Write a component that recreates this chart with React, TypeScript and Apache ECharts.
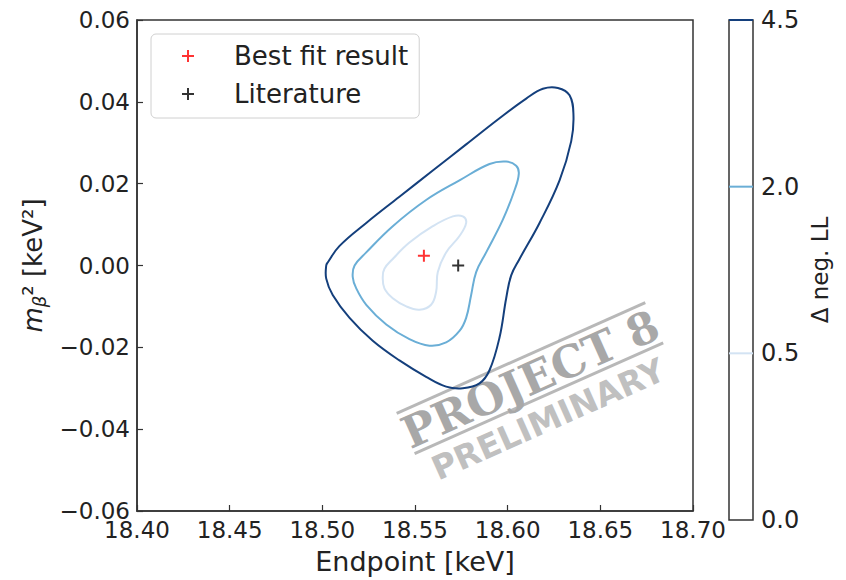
import React, { useEffect, useRef } from 'react';
import * as echarts from 'echarts';

// Contour levels (Δ neg. LL) and colorbar ticks
const contourLevels = [0.5, 2.0, 4.5];
const colorbarTicks = [0.0, 0.5, 2.0, 4.5];
const levelColors = ['#d3e3f3', '#6aaed6', '#143f7c'];

// Contour for Δ = 0.5 (innermost)
const innerContour: number[][] = [
  [18.5326, -0.0028], [18.5335, -0.0056], [18.5380, -0.0080], [18.5453, -0.0100],
  [18.5524, -0.0108], [18.5587, -0.0096], [18.5614, -0.0064], [18.5623, -0.0016],
  [18.5668, 0.0032], [18.5740, 0.0072], [18.5776, 0.0104], [18.5758, 0.0120],
  [18.5704, 0.0120], [18.5596, 0.0096], [18.5470, 0.0056], [18.5380, 0.0016],
  [18.5335, -0.0008],
];

// Contour for Δ = 2.0
const middleContour: number[][] = [
  [18.5164, -0.0028], [18.5183, -0.0056], [18.5237, -0.0096], [18.5345, -0.0144],
  [18.5470, -0.0180], [18.5578, -0.0196], [18.5668, -0.0188], [18.5740, -0.0160],
  [18.5776, -0.0128], [18.5803, -0.0072], [18.5830, -0.0016], [18.5884, 0.0032],
  [18.5974, 0.0112], [18.6037, 0.0184], [18.6060, 0.0224], [18.6046, 0.0244],
  [18.5992, 0.0254], [18.5902, 0.0248], [18.5740, 0.0208], [18.5560, 0.0160],
  [18.5380, 0.0096], [18.5237, 0.0032], [18.5174, 0.0000],
];

// Contour for Δ = 4.5 (outermost)
const outerContour: number[][] = [
  [18.5021, 0.0000], [18.5021, -0.0032], [18.5056, -0.0072], [18.5147, -0.0128],
  [18.5272, -0.0184], [18.5416, -0.0232], [18.5560, -0.0272], [18.5668, -0.0296],
  [18.5758, -0.0300], [18.5848, -0.0288], [18.5902, -0.0256], [18.5956, -0.0176],
  [18.5992, -0.0080], [18.6019, -0.0024], [18.6064, 0.0016], [18.6172, 0.0104],
  [18.6280, 0.0208], [18.6343, 0.0304], [18.6355, 0.0368], [18.6334, 0.0416],
  [18.6271, 0.0434], [18.6190, 0.0432], [18.6100, 0.0408], [18.5956, 0.0360],
  [18.5776, 0.0296], [18.5596, 0.0232], [18.5416, 0.0168], [18.5237, 0.0104],
  [18.5093, 0.0048], [18.5030, 0.0008],
];

const contours = [innerContour, middleContour, outerContour];

const bestFit: number[][] = [[18.5548, 0.0024]];
const literature: number[][] = [[18.5733, 0.0]];

const seriesNames = ['Best fit result', 'Literature'];
const xTitle = 'Endpoint [keV]';
const colorbarTitle = 'Δ neg. LL';

const plusPath = 'path://M5,0H7V5H12V7H7V12H5V7H0V5H5Z';
const FONT = 'DejaVu Sans';
const TXT = '#222';

export default function App() {
  const ref = useRef<HTMLDivElement>(null);

  useEffect(() => {
    if (!ref.current) return;
    const chart = echarts.init(ref.current, null, { renderer: 'svg' });

    const contourSeries = contours.map((c, i) => ({
      type: 'custom',
      name: 'level ' + contourLevels[i],
      xAxisIndex: 0,
      yAxisIndex: 0,
      data: c,
      encode: { x: 0, y: 1 },
      silent: true,
      z: 3,
      renderItem: (params: any, api: any) => {
        if (params.dataIndex !== 0) return null;
        const pts = c.map((p) => api.coord(p));
        return {
          type: 'polygon',
          shape: { points: pts, smooth: 0.4 },
          style: { fill: 'none', stroke: levelColors[i], lineWidth: 2 },
        };
      },
    }));

    const colorbarSeries = contourLevels.map((lv, i) => {
      const idx = colorbarTicks.indexOf(lv);
      return {
        type: 'line',
        name: 'cb ' + lv,
        xAxisIndex: 1,
        yAxisIndex: 1,
        data: [[0, idx], [1, idx]],
        symbol: 'none',
        silent: true,
        lineStyle: { color: levelColors[i], width: 2 },
      };
    });

    const option: any = {
      animation: false,
      textStyle: { fontFamily: FONT },
      grid: [
        { left: 137, top: 20, width: 556, height: 500, show: true, borderColor: '#333', borderWidth: 1.5, containLabel: false },
        { left: 729, top: 20, width: 24, height: 500, show: true, borderColor: '#333', borderWidth: 1.5, containLabel: false },
      ],
      legend: {
        orient: 'vertical',
        left: 151,
        top: 34,
        data: seriesNames.map((n) => ({ name: n, icon: plusPath })),
        itemWidth: 12,
        itemHeight: 12,
        itemGap: 12,
        padding: [9, 11, 11, 31],
        backgroundColor: '#fff',
        borderColor: '#d0d0d0',
        borderWidth: 1,
        borderRadius: 5,
        selectedMode: false,
        textStyle: { fontSize: 26, color: TXT, fontFamily: FONT, lineHeight: 26, padding: [0, 0, 0, 35] },
      },
      xAxis: [
        {
          type: 'value',
          gridIndex: 0,
          min: 18.4,
          max: 18.7,
          interval: 0.05,
          name: xTitle,
          nameLocation: 'middle',
          nameGap: 37,
          nameTextStyle: { fontSize: 27, color: TXT, fontFamily: FONT },
          axisLine: { show: true, onZero: false, lineStyle: { color: '#333', width: 1.5 } },
          axisTick: { show: true, inside: true, length: 6, lineStyle: { color: '#333', width: 1.2 } },
          axisLabel: { fontSize: 23, color: TXT, margin: 7, formatter: (v: number) => v.toFixed(2) },
          splitLine: { show: false },
        },
        { type: 'value', gridIndex: 1, min: 0, max: 1, show: false },
      ],
      yAxis: [
        {
          type: 'value',
          gridIndex: 0,
          min: -0.06,
          max: 0.06,
          interval: 0.02,
          name: '{i|m}{s|β}{n|² [keV²]}',
          nameLocation: 'middle',
          nameRotate: 90,
          nameGap: 78,
          nameTextStyle: {
            color: TXT,
            fontFamily: FONT,
            fontSize: 26,
            rich: {
              i: { fontSize: 26, fontStyle: 'italic', color: TXT, fontFamily: FONT, lineHeight: 32 },
              s: { fontSize: 18, fontStyle: 'italic', color: TXT, fontFamily: FONT, verticalAlign: 'bottom', lineHeight: 18 },
              n: { fontSize: 26, color: TXT, fontFamily: FONT, lineHeight: 32 },
            },
          },
          axisLine: { show: true, onZero: false, lineStyle: { color: '#333', width: 1.5 } },
          axisTick: { show: true, inside: true, length: 6, lineStyle: { color: '#333', width: 1.2 } },
          axisLabel: {
            fontSize: 23,
            color: TXT,
            margin: 7,
            formatter: (v: number) => v.toFixed(2).replace('-', '\u2212'),
          },
          splitLine: { show: false },
        },
        {
          type: 'value',
          gridIndex: 1,
          min: 0,
          max: colorbarTicks.length - 1,
          interval: 1,
          position: 'right',
          name: colorbarTitle,
          nameLocation: 'middle',
          nameRotate: 90,
          nameGap: 55,
          nameTextStyle: { fontSize: 23, color: TXT, fontFamily: FONT },
          axisLine: { show: false },
          axisTick: { show: false },
          splitLine: { show: false },
          axisLabel: {
            fontSize: 24,
            color: TXT,
            margin: 8,
            formatter: (v: number) => colorbarTicks[Math.round(v)].toFixed(1),
          },
        },
      ],
      series: [
        ...contourSeries,
        ...colorbarSeries,
        {
          type: 'scatter',
          name: seriesNames[0],
          xAxisIndex: 0,
          yAxisIndex: 0,
          data: bestFit,
          symbol: plusPath,
          symbolSize: 12,
          itemStyle: { color: '#ff0000' },
          z: 5,
        },
        {
          type: 'scatter',
          name: seriesNames[1],
          xAxisIndex: 0,
          yAxisIndex: 0,
          data: literature,
          symbol: plusPath,
          symbolSize: 12,
          itemStyle: { color: '#000000' },
          z: 5,
        },
      ],
      graphic: [
        {
          type: 'group',
          x: 521,
          y: 358,
          rotation: (24 * Math.PI) / 180,
          z: 100,
          silent: true,
          children: [
            { type: 'line', shape: { x1: -136, y1: 0, x2: 136, y2: 0 }, style: { stroke: '#b8b8b8', lineWidth: 3 } },
            { type: 'line', shape: { x1: -136, y1: 44, x2: 136, y2: 44 }, style: { stroke: '#b8b8b8', lineWidth: 3 } },
            {
              type: 'text',
              x: 0,
              y: 23,
              style: {
                text: 'PROJECT 8',
                fontFamily: 'DejaVu Serif',
                fontWeight: 'bold',
                fontSize: 44,
                fill: '#a8a8a8',
                align: 'center',
                verticalAlign: 'middle',
              },
            },
            {
              type: 'text',
              x: 0,
              y: 67,
              style: {
                text: 'PRELIMINARY',
                fontFamily: FONT,
                fontWeight: 'bold',
                fontSize: 33,
                fill: '#c0c0c0',
                align: 'center',
                verticalAlign: 'middle',
              },
            },
          ],
        },
      ],
    };

    chart.setOption(option);
    return () => chart.dispose();
  }, []);

  return (
    <div
      ref={ref}
      style={{ position: 'fixed', left: 0, top: 0, width: 846, height: 580, background: '#fff' }}
    />
  );
}
